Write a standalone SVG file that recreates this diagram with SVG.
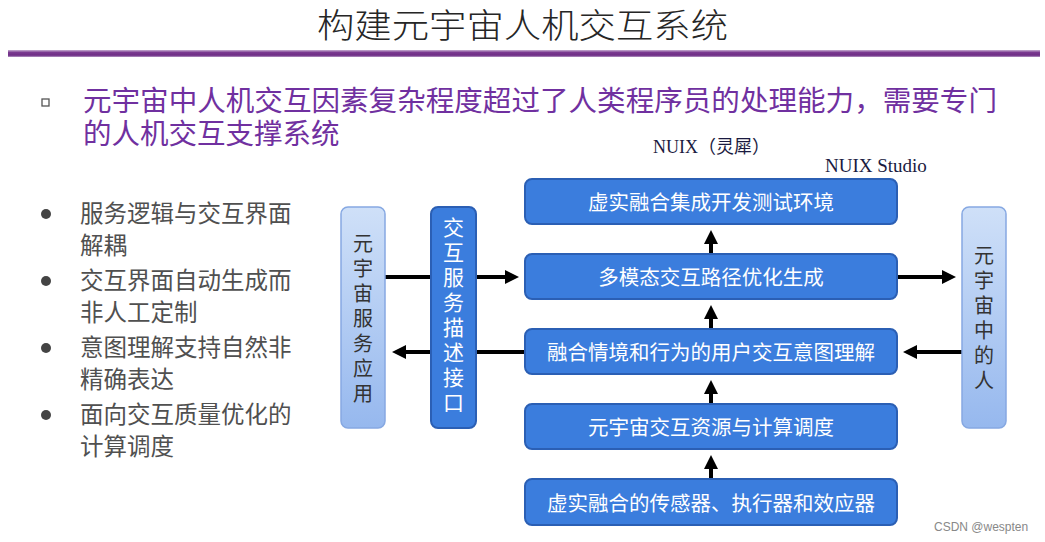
<svg xmlns="http://www.w3.org/2000/svg" width="1045" height="542" viewBox="0 0 1045 542">
<style>
.cjk{font-family:"Noto Sans CJK SC","Noto Sans",sans-serif}
.title{font-size:34px;fill:#262626;font-weight:300}
.lead{font-size:28.5px;fill:#7030a0}
.bul{font-size:23.5px;fill:#505050}
.box{fill:#3b7ddd;stroke:#2b5fb4;stroke-width:2}
.btxt{font-size:20.5px;fill:#ffffff;text-anchor:middle;dominant-baseline:central}
.side{fill:url(#sideg);stroke:#86a8e2;stroke-width:1.5}
.vt{writing-mode:vertical-rl;text-orientation:upright}
.stxt{font-size:20px;fill:#333333;letter-spacing:5px}
.mtxt{font-size:21px;fill:#ffffff;letter-spacing:4px}
.conn{stroke:#000;stroke-width:4;fill:none}
.serif{font-family:"Liberation Serif","Noto Sans CJK SC",serif}
</style>
<defs>
<linearGradient id="sideg" x1="0" y1="0" x2="0" y2="1">
<stop offset="0" stop-color="#cfe0f8"/>
<stop offset="1" stop-color="#96b8ee"/>
</linearGradient>
<linearGradient id="purp" x1="0" y1="0" x2="0" y2="1">
<stop offset="0" stop-color="#c7b0d2"/>
<stop offset="0.35" stop-color="#7a3a90"/>
<stop offset="0.75" stop-color="#6e2d86"/>
<stop offset="1" stop-color="#b597c4"/>
</linearGradient>
<marker id="ah" markerWidth="14" markerHeight="14" refX="10" refY="7" orient="auto" markerUnits="userSpaceOnUse">
<path d="M0,0 L14,7 L0,14 z" fill="#000"/>
</marker>
</defs>
<rect width="1045" height="542" fill="#ffffff"/>

<g id="header">
<text class="cjk title" x="317" y="38" textLength="411" lengthAdjust="spacingAndGlyphs">构建元宇宙人机交互系统</text>
<rect x="8" y="50" width="1032" height="7" fill="url(#purp)"/>
<rect x="42" y="99" width="7" height="7" fill="#fff" stroke="#555" stroke-width="1.3"/>
<text class="cjk lead"><tspan x="83" y="111" textLength="914" lengthAdjust="spacingAndGlyphs">元宇宙中人机交互因素复杂程度超过了人类程序员的处理能力，需要专门</tspan><tspan x="83" y="144">的人机交互支撑系统</tspan></text>
<text class="serif" x="653" y="153" font-size="18" fill="#1a1a40">NUIX（灵犀）</text>
<text class="serif" x="825" y="172" font-size="19" fill="#1a1a40">NUIX Studio</text>
</g>

<g id="bullets">
<circle cx="46" cy="214" r="5" fill="#444"/>
<circle cx="46" cy="281" r="5" fill="#444"/>
<circle cx="46" cy="348" r="5" fill="#444"/>
<circle cx="46" cy="415" r="5" fill="#444"/>
<text class="cjk bul" x="80" y="222">服务逻辑与交互界面</text>
<text class="cjk bul" x="80" y="254">解耦</text>
<text class="cjk bul" x="80" y="289">交互界面自动生成而</text>
<text class="cjk bul" x="80" y="321">非人工定制</text>
<text class="cjk bul" x="80" y="356">意图理解支持自然非</text>
<text class="cjk bul" x="80" y="388">精确表达</text>
<text class="cjk bul" x="80" y="423">面向交互质量优化的</text>
<text class="cjk bul" x="80" y="455">计算调度</text>
</g>

<g id="connectors">
<line class="conn" x1="385" y1="277" x2="515" y2="277" marker-end="url(#ah)"/>
<line class="conn" x1="525" y1="352" x2="396" y2="352" marker-end="url(#ah)"/>
<line class="conn" x1="897" y1="277" x2="952" y2="277" marker-end="url(#ah)"/>
<line class="conn" x1="962" y1="352" x2="907" y2="352" marker-end="url(#ah)"/>
<line class="conn" x1="711" y1="254" x2="711" y2="234" marker-end="url(#ah)"/>
<line class="conn" x1="711" y1="329" x2="711" y2="309" marker-end="url(#ah)"/>
<line class="conn" x1="711" y1="404" x2="711" y2="384" marker-end="url(#ah)"/>
<line class="conn" x1="711" y1="479" x2="711" y2="459" marker-end="url(#ah)"/>
</g>

<g id="node-app">
<rect class="side" x="341" y="207" width="44" height="221" rx="7"/>
<text class="cjk stxt vt" x="363" y="233">元宇宙服务应用</text>
</g>

<g id="node-iface">
<rect class="box" x="431" y="207" width="45" height="221" rx="7"/>
<text class="cjk mtxt vt" x="453.5" y="217">交互服务描述接口</text>
</g>

<g id="node-human">
<rect class="side" x="962" y="207" width="44" height="221" rx="7"/>
<text class="cjk stxt vt" x="984" y="245">元宇宙中的人</text>
</g>

<g id="node-devenv">
<rect class="box" x="525" y="179" width="372" height="45" rx="7"/>
<text class="cjk btxt" x="711" y="201">虚实融合集成开发测试环境</text>
</g>
<g id="node-path">
<rect class="box" x="525" y="254" width="372" height="45" rx="7"/>
<text class="cjk btxt" x="711" y="276">多模态交互路径优化生成</text>
</g>
<g id="node-intent">
<rect class="box" x="525" y="329" width="372" height="45" rx="7"/>
<text class="cjk btxt" x="711" y="351">融合情境和行为的用户交互意图理解</text>
</g>
<g id="node-resource">
<rect class="box" x="525" y="404" width="372" height="45" rx="7"/>
<text class="cjk btxt" x="711" y="426">元宇宙交互资源与计算调度</text>
</g>
<g id="node-sensor">
<rect class="box" x="525" y="479" width="372" height="46" rx="7"/>
<text class="cjk btxt" x="711" y="502">虚实融合的传感器、执行器和效应器</text>
</g>

<text x="934" y="531" font-family="Liberation Sans,sans-serif" font-size="12" fill="#888">CSDN @wespten</text>
</svg>
